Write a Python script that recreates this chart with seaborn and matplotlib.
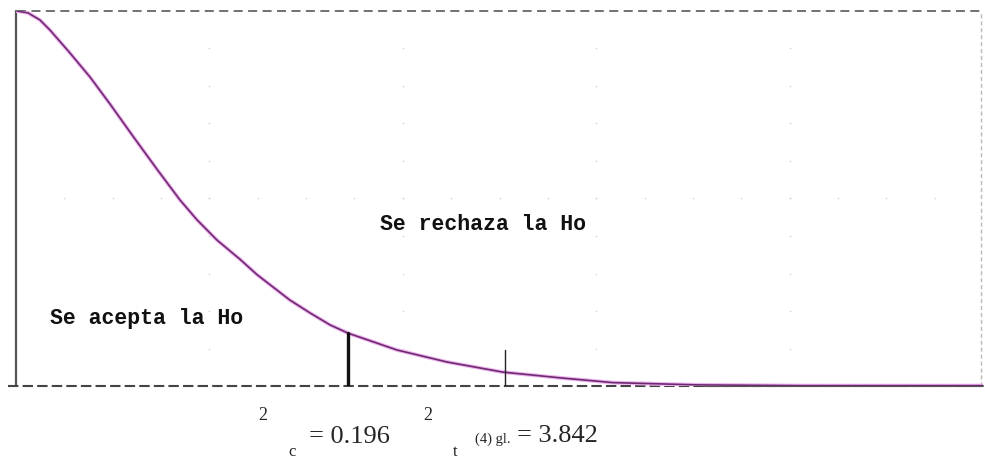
import numpy as np
import pandas as pd
import matplotlib
matplotlib.use("Agg")
import matplotlib.pyplot as plt
import seaborn as sns

# ---- data (arbitrary chart units) ----
curve_x = [0.010, 0.124, 0.248, 0.352, 0.558, 0.765, 0.972, 1.210, 1.458, 1.696,
           1.872, 2.079, 2.316, 2.492, 2.833, 3.040, 3.247, 3.433, 3.940, 4.457,
           5.036, 5.657, 6.174, 7.042, 8.107, 10.0]
curve_y = [1.000, 0.995, 0.976, 0.949, 0.888, 0.824, 0.752, 0.666, 0.578, 0.496,
           0.443, 0.389, 0.338, 0.297, 0.229, 0.195, 0.163, 0.141, 0.096, 0.064,
           0.037, 0.021, 0.009, 0.003, 0.001, 0.001]
calc_x, calc_h = 3.433, 0.141     # chi-square calculado
tab_x, tab_h = 5.057, 0.096       # chi-square de tabla
region_labels = ["Se acepta la Ho", "Se rechaza la Ho"]
chi_calc = "0.196"
chi_tab = "3.842"

df = pd.DataFrame({"x": curve_x, "y": curve_y})

sns.set_style("white")
plt.rcParams["font.family"] = ["DejaVu Sans"]

W, H = 985, 461
fig = plt.figure(figsize=(W / 100, H / 100), dpi=100)
fig.patch.set_facecolor("white")
ax = fig.add_axes([16 / W, (H - 386) / H, (983 - 16) / W, 375 / H])
ax.set_xlim(0, 10)
ax.set_ylim(0, 1)

# faint dotted grid marks
gx = np.arange(0.5, 10.0, 0.5)
ax.scatter(gx, np.full_like(gx, 0.5), s=3, color="#dcdcdc", marker="+", lw=0.6, zorder=1)
for xc in [2, 4, 6, 8]:
    gy = np.arange(0.1, 0.95, 0.1)
    ax.scatter(np.full_like(gy, xc), gy, s=3, color="#dcdcdc", marker="+", lw=0.6, zorder=1)

# frame
ax.plot([0, 0], [0, 1], color="#555555", lw=1.6, clip_on=False, zorder=3)
ax.plot([0.01, 10.0], [1, 1], color="#666666", lw=1.3, ls=(0, (5, 3)), clip_on=False, zorder=3)
ax.plot([-0.08, 10.0], [0, 0], color="#444444", lw=1.5, ls=(0, (5, 2)), clip_on=False, zorder=3)
ax.plot([7.1, 10.0], [0, 0], color="#555555", lw=1.5, clip_on=False, zorder=3)
ax.plot([9.98, 9.98], [0, 1], color="#bbbbbb", lw=1.0, ls=(0, (3, 2)), clip_on=False, zorder=2)

# curve: pink halo + purple core
ax.plot(curve_x, curve_y, color="#efb4ef", lw=2.8, solid_capstyle="round",
        solid_joinstyle="round", zorder=4)
sns.lineplot(data=df, x="x", y="y", ax=ax, color="#6e2a70", lw=1.2, zorder=5)
ax.set_axis_off()

# vertical markers
ax.plot([calc_x, calc_x], [0, calc_h], color="#111111", lw=2.4, zorder=6)
ax.plot([tab_x, tab_x], [0, tab_h], color="#222222", lw=1.0, zorder=6)

mono = dict(family=["Liberation Mono", "DejaVu Sans Mono"], weight="bold",
            fontsize=15.5, color="#111111", va="center", ha="left")
ax.text(0.35, 0.181, region_labels[0], **mono)
ax.text(3.76, 0.43, region_labels[1], **mono)

serif = ["Liberation Serif", "DejaVu Serif"]
def fx(px): return px / W
def fy(py): return 1 - py / H

fig.text(fx(263), fy(415), "2", family=serif, fontsize=13, ha="center", va="center")
fig.text(fx(309), fy(437), "= " + chi_calc, family=serif, fontsize=19, ha="left", va="center")
fig.text(fx(292), fy(452), "c", family=serif, fontsize=12, ha="center", va="center")
fig.text(fx(428), fy(415), "2", family=serif, fontsize=13, ha="center", va="center")
fig.text(fx(455), fy(452), "t", family=serif, fontsize=12, ha="center", va="center")
fig.text(fx(475), fy(439), "(4) gl.", family=serif, fontsize=10.5, ha="left", va="center")
fig.text(fx(517), fy(436), "= " + chi_tab, family=serif, fontsize=19, ha="left", va="center")

fig.savefig("out.png", dpi=100, facecolor="white")
